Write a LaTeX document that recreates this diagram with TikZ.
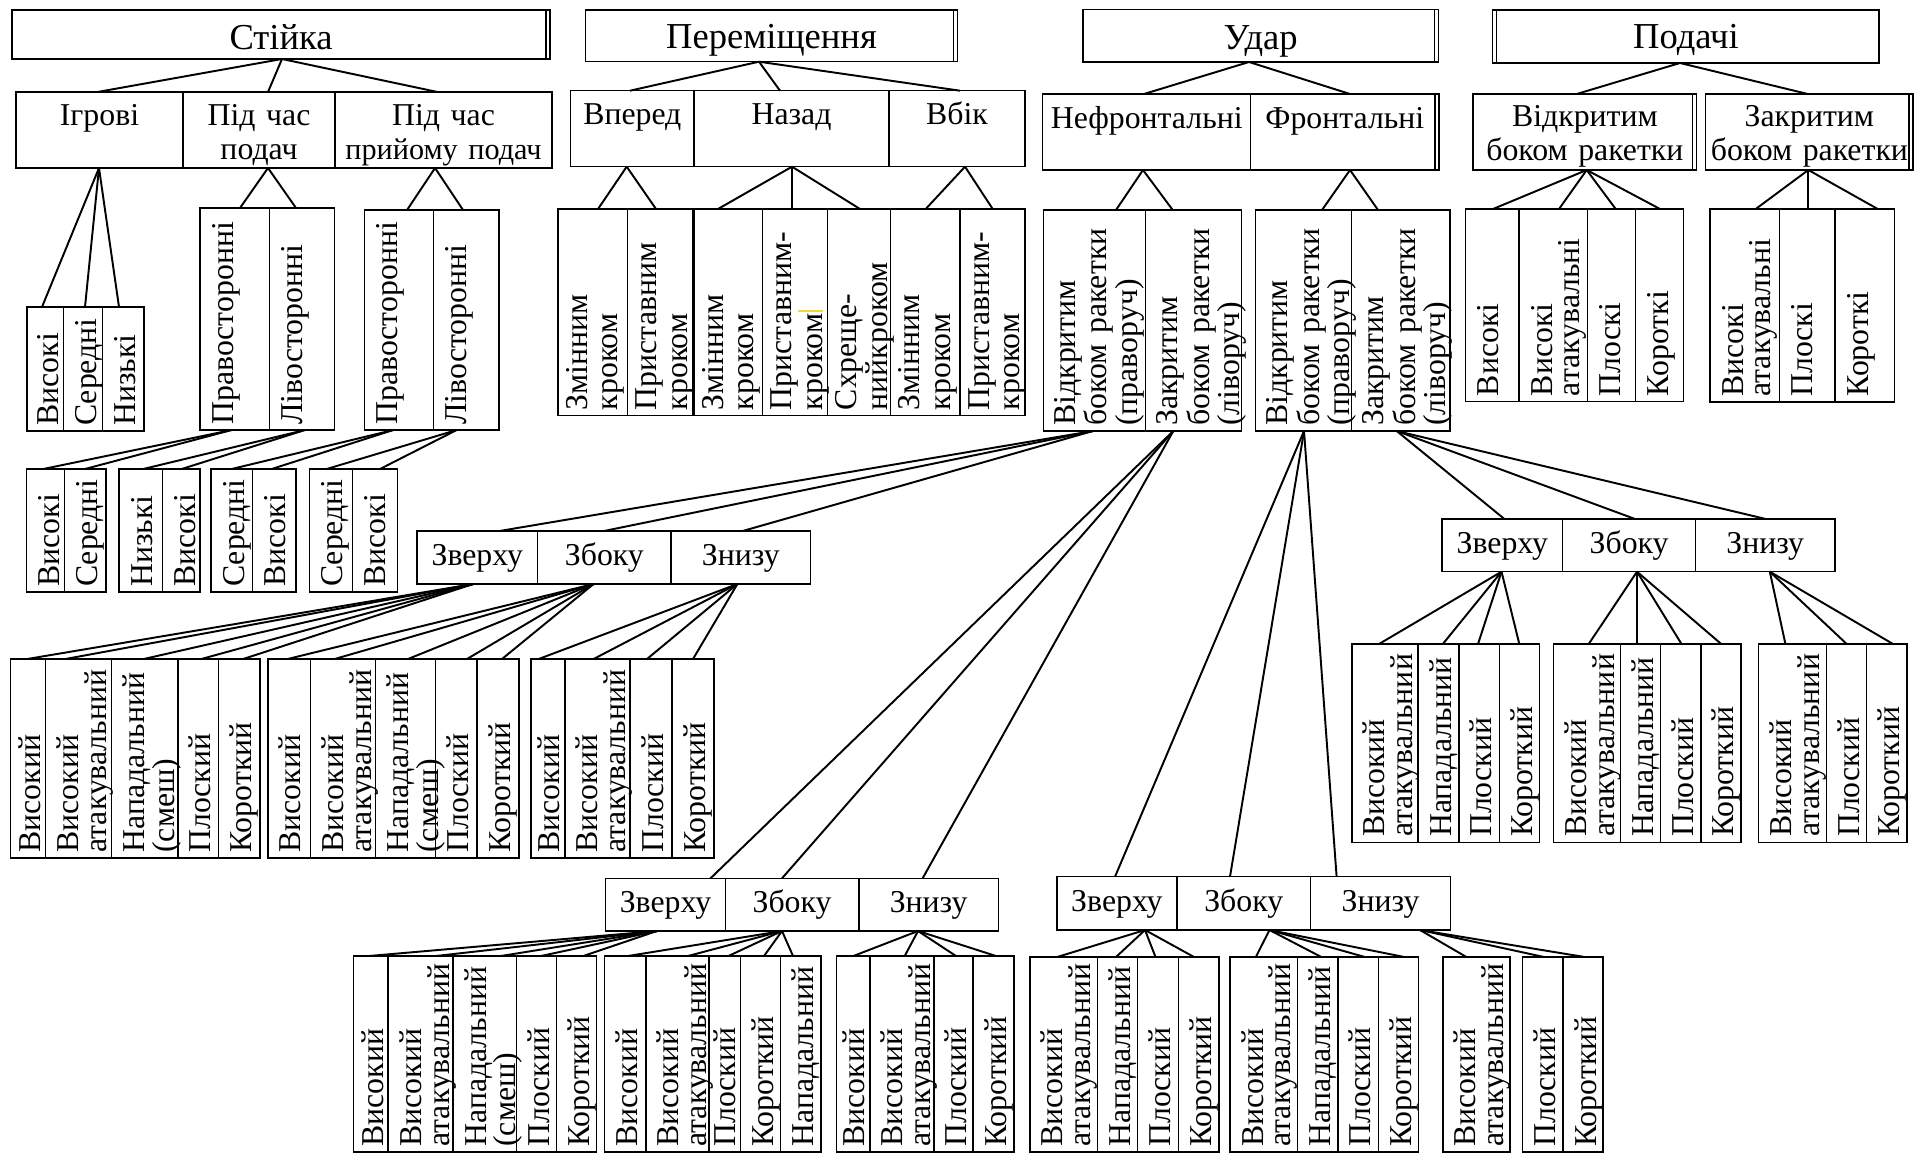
\documentclass[tikz,border=0pt]{standalone}
\usepackage{fontspec}
\setmainfont{Liberation Serif}
\usetikzlibrary{calc}
\definecolor{ymark}{RGB}{240,215,60}
\tikzset{
  cellbox/.style={draw, line width=0.85pt, inner sep=0pt, outer sep=0pt, anchor=north west},
  boxline/.style={line width=0.85pt},
  conn/.style={line width=1.1pt},
  vtext/.style={rotate=90, anchor=base west, inner sep=0pt, align=left, font=\fontsize{18.1}{15.9}\selectfont},
  vtextb/.style={vtext, font=\fontsize{18.1}{17.6}\selectfont},
  htext/.style={anchor=base, inner sep=0pt, align=center, font=\fontsize{18.1}{19}\selectfont},
  ttext/.style={anchor=base, inner sep=0pt, align=center, font=\fontsize{20.8}{24}\selectfont},
}
\def\maxofs{33}
% vertical-text cell: [style]{name}{x1}{y1}{x2}{y2}{text}
\newcommand{\VC}[7][vtext]{%
  \pgfmathsetlengthmacro\cellw{(#5-#3)*0.02cm}%
  \pgfmathsetlengthmacro\cellh{(#6-#4)*0.02cm}%
  \pgfmathsetlengthmacro\textw{(#6-#4+40)*0.02cm}%
  \pgfmathsetmacro\bofs{min(\maxofs,#5-#3-5)}%
  \node[cellbox, minimum width=\cellw, minimum height=\cellh] (#2) at (#3,#4) {};%
  \node[#1, text width=\textw] (#2-t) at (#3+\bofs,#6-5) {#7};%
}
% horizontal-text cell: [style]{name}{x1}{y1}{x2}{y2}{baseline offset}{text}
\newcommand{\HC}[8][htext]{%
  \pgfmathsetlengthmacro\cellw{(#5-#3)*0.02cm}%
  \pgfmathsetlengthmacro\cellh{(#6-#4)*0.02cm}%
  \pgfmathsetlengthmacro\textw{(#5-#3+60)*0.02cm}%
  \node[cellbox, minimum width=\cellw, minimum height=\cellh] (#2) at (#3,#4) {};%
  \node[#1, text width=\textw] (#2-t) at ({(#3+#5)/2},#4+#7) {#8};%
}
% connector: {parent}{x on parent bottom}{child}{x on child top}
\newcommand{\LK}[4]{\draw[conn] (#1.south -| #2,0) -- (#3.north -| #4,0);}
\newcommand{\RDbl}[1]{\draw[boxline] ([xshift=-0.08cm]#1.north east) -- ([xshift=-0.08cm]#1.south east);}
\newcommand{\LDbl}[1]{\draw[boxline] ([xshift=0.08cm]#1.north west) -- ([xshift=0.08cm]#1.south west);}

\begin{document}
\begin{tikzpicture}[x=0.02cm,y=-0.02cm]
\path[use as bounding box, fill=white] (0,0) rectangle (1922,1155);

% ================= Стійка =================
\HC[ttext]{s0}{12}{10}{550}{59}{39.5}{Стійка}
\RDbl{s0}
\HC{s1}{16}{92}{183}{168}{34}{Ігрові}
\HC{s2}{183}{92}{335}{168}{34}{Під час\\подач}
\HC{s3}{335}{92}{552}{168}{34}{Під час\\{\fontsize{17.2}{19}\selectfont прийому подач}}
\LK{s0}{282}{s1}{97.5}
\LK{s0}{282}{s2}{268}
\LK{s0}{282}{s3}{437.5}

\VC{s1a}{27}{307}{63.3}{431}{Високі}
\VC{s1b}{63.3}{307}{102.7}{431}{Середні}
\VC{s1c}{102.7}{307}{144}{431}{Низькі}
\LK{s1}{99}{s1a}{42}
\LK{s1}{99}{s1b}{85}
\LK{s1}{99}{s1c}{119}

\VC{s2a}{200}{208}{269.3}{430}{Правосторонні}
\VC{s2b}{269.3}{208}{334.3}{430}{Лівосторонні}
\LK{s2}{268}{s2a}{240}
\LK{s2}{268}{s2b}{296}
\VC{s3a}{364.3}{210}{433.3}{430}{Правосторонні}
\VC{s3b}{433.3}{210}{499}{430}{Лівосторонні}
\LK{s3}{435}{s3a}{407}
\LK{s3}{435}{s3b}{463}

\VC{s2a1}{26.7}{469}{64.3}{592}{Високі}
\VC{s2a2}{64.3}{469}{106}{592}{Середні}
\VC{s2b1}{119}{469}{162.7}{592}{Низькі}
\VC{s2b2}{162.7}{469}{200}{592}{Високі}
\VC{s3a1}{211}{469}{252.7}{592}{Середні}
\VC{s3a2}{252.7}{469}{296}{592}{Високі}
\VC{s3b1}{309.3}{469}{352.7}{592}{Середні}
\VC{s3b2}{352.7}{469}{397.7}{592}{Високі}
\LK{s2a}{231.7}{s2a1}{43.3}
\LK{s2a}{231.7}{s2a2}{85}
\LK{s2b}{305}{s2b1}{143.3}
\LK{s2b}{305}{s2b2}{181.7}
\LK{s3a}{393.3}{s3a1}{231.7}
\LK{s3a}{393.3}{s3a2}{271.7}
\LK{s3b}{456.7}{s3b1}{326.7}
\LK{s3b}{456.7}{s3b2}{380}

% ================= Переміщення =================
\HC[ttext]{p0}{585.7}{10}{957.3}{61.7}{38.3}{Переміщення}
\RDbl{p0}
\HC{p1}{570.7}{90.7}{694}{166.7}{34.3}{Вперед}
\HC{p2}{694}{90.7}{889}{166.7}{34.3}{Назад}
\HC{p3}{889}{90.7}{1025}{166.7}{34.3}{Вбік}
\LK{p0}{759}{p1}{630}
\LK{p0}{759}{p2}{780}
\LK{p0}{759}{p3}{960}
\def\maxofs{29}
\VC[vtextb]{p1a}{558}{209}{627.7}{415.5}{Змінним\\кроком}
\VC[vtextb]{p1b}{627.7}{209}{692.7}{415.5}{Приставним\\кроком}
\VC[vtextb]{p2a}{694}{209}{762.7}{415.5}{Змінним\\кроком}
\VC[vtextb]{p2b}{762.7}{209}{827.7}{415.5}{Приставним-\\кроком}
\VC[vtextb]{p2c}{827.7}{209}{890.7}{415.5}{Схреще-\\нийкроком}
\VC[vtextb]{p3a}{890.7}{209}{960}{415.5}{Змінним\\кроком}
\VC[vtextb]{p3b}{960}{209}{1025}{415.5}{Приставним-\\кроком}
\def\maxofs{33}
\LK{p1}{626.7}{p1a}{598}
\LK{p1}{626.7}{p1b}{656}
\LK{p2}{792}{p2a}{718}
\LK{p2}{792}{p2b}{792}
\LK{p2}{792}{p2c}{860}
\LK{p3}{965}{p3a}{925.7}
\LK{p3}{965}{p3b}{992.7}
\draw[line width=0.7pt, ymark] (798,311) -- (823,311);

% ================= Удар =================
\HC[ttext]{u0}{1083}{9.3}{1438.3}{62}{40}{Удар}
\RDbl{u0}
\HC{u1}{1042.7}{94}{1250.7}{170}{34.3}{Нефронтальні}
\HC{u2}{1250.7}{94}{1439}{170}{34.3}{Фронтальні}
\RDbl{u2}
\LK{u0}{1249}{u1}{1144}
\LK{u0}{1249}{u2}{1350}
\def\maxofs{32}
\VC{u1a}{1043.3}{210}{1145.7}{431}{Відкритим\\боком ракетки\\(праворуч)}
\VC{u1b}{1145.7}{210}{1241.7}{431}{Закритим\\боком ракетки\\(ліворуч)}
\VC{u2a}{1255.7}{210}{1351.7}{431}{Відкритим\\боком ракетки\\(праворуч)}
\VC{u2b}{1351.7}{210}{1450}{431}{Закритим\\боком ракетки\\(ліворуч)}
\def\maxofs{33}
\LK{u1}{1143}{u1a}{1116}
\LK{u1}{1143}{u1b}{1172.7}
\LK{u2}{1350}{u2a}{1322}
\LK{u2}{1350}{u2b}{1378}

% ---- Z1: from u1a ----
\HC{za}{416.8}{531}{537.7}{584}{34.5}{Зверху}
\HC{zb}{537.7}{531}{671}{584}{34.5}{Збоку}
\HC{zc}{671}{531}{810.7}{584}{34.5}{Знизу}
\LK{u1a}{1093}{za}{499.5}
\LK{u1a}{1093}{zb}{604}
\LK{u1a}{1093}{zc}{742.7}
\VC{za1}{10.5}{659}{45.5}{858}{Високий}
\VC{za2}{45.5}{659}{111.4}{858}{Високий\\атакувальний}
\VC{za3}{111.4}{659}{177.8}{858}{Нападальний\\(смеш)}
\VC{za4}{177.8}{659}{218.6}{858}{Плоский}
\VC{za5}{218.6}{659}{260}{858}{Короткий}
\LK{za}{473.3}{za1}{27.2}
\LK{za}{473.3}{za2}{65.4}
\LK{za}{473.3}{za3}{143.8}
\LK{za}{473.3}{za4}{201.4}
\LK{za}{473.3}{za5}{243.2}
\VC{zb1}{267.8}{659}{310.7}{858}{Високий}
\VC{zb2}{310.7}{659}{375.5}{858}{Високий\\атакувальний}
\VC{zb3}{375.5}{659}{435.7}{858}{Нападальний\\(смеш)}
\VC{zb4}{435.7}{659}{477}{858}{Плоский}
\VC{zb5}{477}{659}{518.8}{858}{Короткий}
\LK{zb}{593.6}{zb1}{287.7}
\LK{zb}{593.6}{zb2}{334.7}
\LK{zb}{593.6}{zb3}{408}
\LK{zb}{593.6}{zb4}{467}
\LK{zb}{593.6}{zb5}{502}
\VC{zc1}{530.9}{659}{564.9}{858}{Високий}
\VC{zc2}{564.9}{659}{630.2}{858}{Високий\\атакувальний}
\VC{zc3}{630.2}{659}{672}{858}{Плоский}
\VC{zc4}{672}{659}{714}{858}{Короткий}
\LK{zc}{737.4}{zc1}{538.7}
\LK{zc}{737.4}{zc2}{593.6}
\LK{zc}{737.4}{zc3}{647}
\LK{zc}{737.4}{zc4}{693}

% ---- Z2: from u1b ----
\HC{ya}{605.6}{878.3}{725.3}{931}{34.5}{Зверху}
\HC{yb}{725.3}{878.3}{858.8}{931}{34.5}{Збоку}
\HC{yc}{858.8}{878.3}{998.5}{931}{34.5}{Знизу}
\LK{u1b}{1173.3}{ya}{710.5}
\LK{u1b}{1173.3}{yb}{782}
\LK{u1b}{1173.3}{yc}{922.6}
\VC{ya1}{353.4}{956}{388.2}{1152}{Високий}
\VC{ya2}{388.2}{956}{453}{1152}{Високий\\атакувальний}
\VC{ya3}{453}{956}{516.3}{1152}{Нападальний\\(смеш)}
\VC{ya4}{516.3}{956}{556.5}{1152}{Плоский}
\VC{ya5}{556.5}{956}{596.7}{1152}{Короткий}
\LK{ya}{657}{ya1}{369}
\LK{ya}{657}{ya2}{436}
\LK{ya}{657}{ya3}{500.7}
\LK{ya}{657}{ya4}{541}
\LK{ya}{657}{ya5}{583.3}
\VC{yb1}{604.3}{956}{645.8}{1152}{Високий}
\VC{yb2}{645.8}{956}{708.8}{1152}{Високий\\атакувальний}
\VC{yb3}{708.8}{956}{740.4}{1152}{Плоский}
\VC{yb4}{740.4}{956}{780.6}{1152}{Короткий}
\VC{yb5}{780.6}{956}{820.8}{1152}{Нападальний}
\LK{yb}{782}{yb1}{628}
\LK{yb}{782}{yb2}{688}
\LK{yb}{782}{yb3}{728.4}
\LK{yb}{782}{yb4}{764}
\LK{yb}{782}{yb5}{793}
\VC{yc1}{836.4}{956}{869.9}{1152}{Високий}
\VC{yc2}{869.9}{956}{933.8}{1152}{Високий\\атакувальний}
\VC{yc3}{933.8}{956}{973}{1152}{Плоский}
\VC{yc4}{973}{956}{1014}{1152}{Короткий}
\LK{yc}{918}{yc1}{853.4}
\LK{yc}{918}{yc2}{904.7}
\LK{yc}{918}{yc3}{956}
\LK{yc}{918}{yc4}{996}

% ---- Z3: from u2a ----
\HC{xa}{1056.8}{876.7}{1177}{930}{34.5}{Зверху}
\HC{xb}{1177}{876.7}{1310.5}{930}{34.5}{Збоку}
\HC{xc}{1310.5}{876.7}{1450.7}{930}{34.5}{Знизу}
\LK{u2a}{1304}{xa}{1115}
\LK{u2a}{1304}{xb}{1230}
\LK{u2a}{1304}{xc}{1336.6}
\VC{xa1}{1029.9}{957}{1097.4}{1152}{Високий\\атакувальний}
\VC{xa2}{1097.4}{957}{1137.6}{1152}{Нападальний}
\VC{xa3}{1137.6}{957}{1178.3}{1152}{Плоский}
\VC{xa4}{1178.3}{957}{1219}{1152}{Короткий}
\LK{xa}{1145}{xa1}{1057.2}
\LK{xa}{1145}{xa2}{1116}
\LK{xa}{1145}{xa3}{1155.5}
\LK{xa}{1145}{xa4}{1194}
\VC{xb1}{1230}{957}{1297.3}{1152}{Високий\\атакувальний}
\VC{xb2}{1297.3}{957}{1337.9}{1152}{Нападальний}
\VC{xb3}{1337.9}{957}{1378.5}{1152}{Плоский}
\VC{xb4}{1378.5}{957}{1418.7}{1152}{Короткий}
\LK{xb}{1269.5}{xb1}{1255.8}
\LK{xb}{1269.5}{xb2}{1321.3}
\LK{xb}{1269.5}{xb3}{1364.8}
\LK{xb}{1269.5}{xb4}{1404.2}
\VC{xc1}{1442.8}{957}{1510}{1152}{Високий\\атакувальний}
\VC{xc2}{1522.4}{957}{1563}{1152}{Плоский}
\VC{xc3}{1563}{957}{1603.2}{1152}{Короткий}
\LK{xc}{1420}{xc1}{1466.4}
\LK{xc}{1420}{xc2}{1544}
\LK{xc}{1420}{xc3}{1584.6}

% ---- Z4: from u2b ----
\HC{wa}{1442}{519}{1562.7}{571.7}{34.5}{Зверху}
\HC{wb}{1562.7}{519}{1695.6}{571.7}{34.5}{Збоку}
\HC{wc}{1695.6}{519}{1834.8}{571.7}{34.5}{Знизу}
\LK{u2b}{1396.7}{wa}{1504.4}
\LK{u2b}{1396.7}{wb}{1635}
\LK{u2b}{1396.7}{wc}{1765.8}
\VC{wa1}{1351.9}{644}{1418}{842.3}{Високий\\атакувальний}
\VC{wa2}{1418}{644}{1458.8}{842.3}{Нападальний}
\VC{wa3}{1458.8}{644}{1499.6}{842.3}{Плоский}
\VC{wa4}{1499.6}{644}{1539.3}{842.3}{Короткий}
\LK{wa}{1501.5}{wa1}{1379}
\LK{wa}{1501.5}{wa2}{1442.8}
\LK{wa}{1501.5}{wa3}{1478}
\LK{wa}{1501.5}{wa4}{1519.3}
\VC{wb1}{1553.4}{644}{1620.3}{842.3}{Високий\\атакувальний}
\VC{wb2}{1620.3}{644}{1660.3}{842.3}{Нападальний}
\VC{wb3}{1660.3}{644}{1700.8}{842.3}{Плоский}
\VC{wb4}{1700.8}{644}{1740.9}{842.3}{Короткий}
\LK{wb}{1637}{wb1}{1588.7}
\LK{wb}{1637}{wb2}{1637}
\LK{wb}{1637}{wb3}{1681.5}
\LK{wb}{1637}{wb4}{1721.2}
\VC{wc1}{1758.3}{644}{1826.3}{842.3}{Високий\\атакувальний}
\VC{wc2}{1826.3}{644}{1866.4}{842.3}{Плоский}
\VC{wc3}{1866.4}{644}{1906.8}{842.3}{Короткий}
\LK{wc}{1769.8}{wc1}{1785.4}
\LK{wc}{1769.8}{wc2}{1846.7}
\LK{wc}{1769.8}{wc3}{1893}

% ================= Подачі =================
\HC[ttext]{d0}{1492.7}{10}{1879}{63}{38.3}{Подачі}
\LDbl{d0}
\HC{d1}{1473}{94}{1696.7}{170}{32.7}{Відкритим\\боком ракетки}
\RDbl{d1}
\HC{d2}{1705.7}{94}{1913}{170}{32.7}{Закритим\\боком ракетки}
\RDbl{d2}
\LK{d0}{1680}{d1}{1576.7}
\LK{d0}{1680}{d2}{1807.7}
\VC{d1a}{1465.7}{209}{1519}{401.5}{Високі}
\VC{d1b}{1519}{209}{1587.7}{401.5}{Високі\\атакувальні}
\VC{d1c}{1587.7}{209}{1635.7}{401.5}{Плоскі}
\VC{d1d}{1635.7}{209}{1683.3}{401.5}{Короткі}
\LK{d1}{1586.7}{d1a}{1493}
\LK{d1}{1586.7}{d1b}{1559}
\LK{d1}{1586.7}{d1c}{1615.7}
\LK{d1}{1586.7}{d1d}{1660}
\VC{d2a}{1710}{209}{1779.3}{402}{Високі\\атакувальні}
\VC{d2b}{1779.3}{209}{1835}{402}{Плоскі}
\VC{d2c}{1835}{209}{1894.3}{402}{Короткі}
\LK{d2}{1808.3}{d2a}{1755.7}
\LK{d2}{1808.3}{d2b}{1808.3}
\LK{d2}{1808.3}{d2c}{1877.7}
\end{tikzpicture}
\end{document}
